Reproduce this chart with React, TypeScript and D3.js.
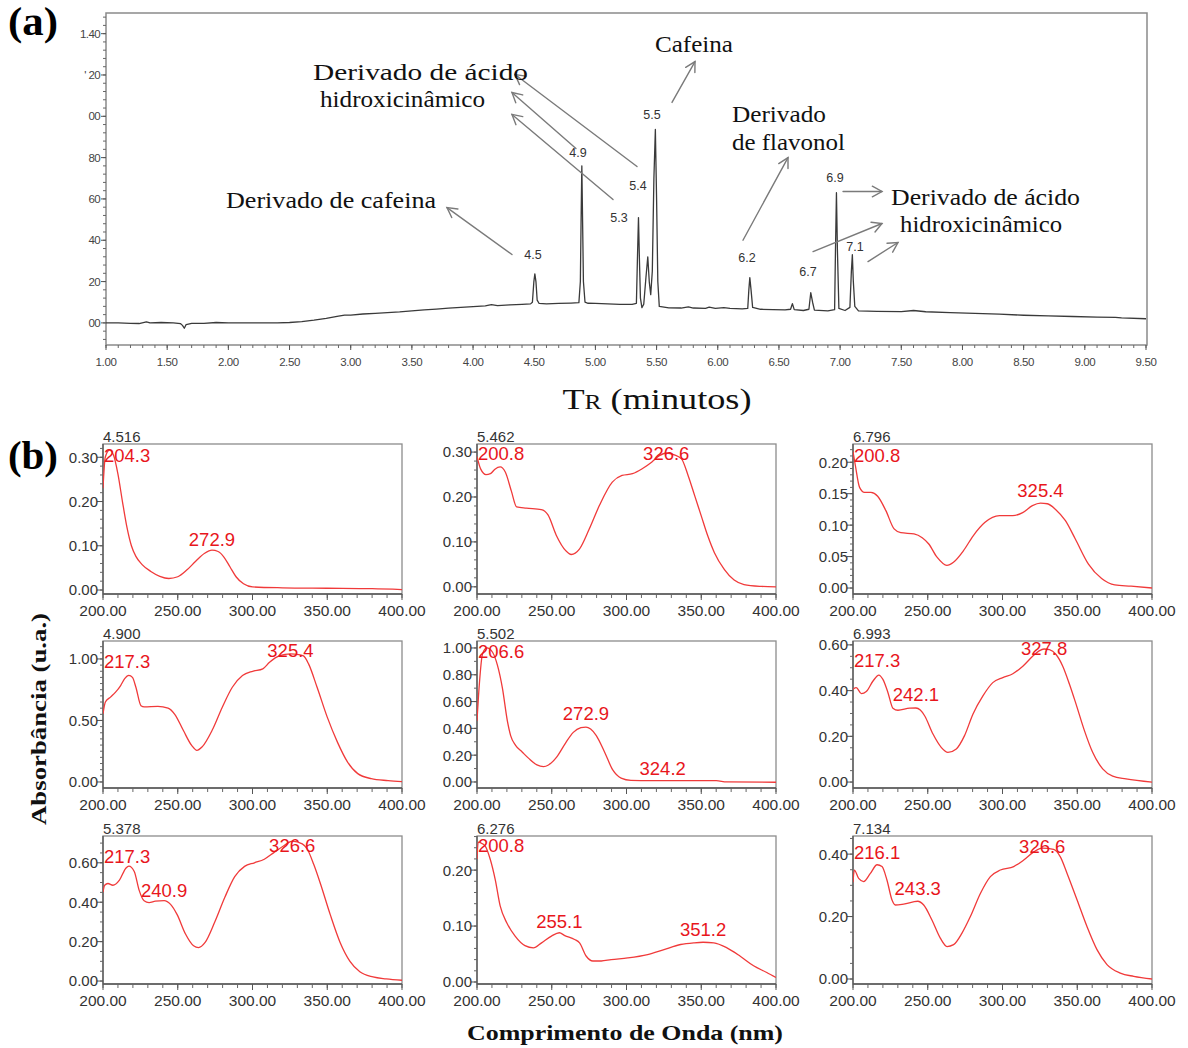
import React from "react";
import * as d3 from "d3";

const W = 1188;
const H = 1048;

const SERIF = "'Liberation Serif', 'Times New Roman', serif";
const SANS = "'Liberation Sans', Arial, sans-serif";

// ---------- (a) chromatogram ----------
// [retention time (min), absorbance]
const chromTrace: [number, number][] = [
  [1.0, 0.0], [1.1, 0.0], [1.2, -0.002], [1.27, -0.003], [1.33, 0.005], [1.36, 0.0], [1.45, 0.002],
  [1.55, 0.0], [1.61, -0.004], [1.625, -0.012], [1.64, -0.026], [1.655, -0.008], [1.7, -0.002],
  [1.8, -0.002], [1.9, 0.002], [2.0, 0.0], [2.2, 0.0], [2.4, 0.0], [2.5, 0.002], [2.6, 0.006],
  [2.7, 0.013], [2.8, 0.022], [2.9, 0.033], [2.95, 0.038], [3.0, 0.038], [3.1, 0.043], [3.2, 0.046],
  [3.3, 0.05], [3.4, 0.053], [3.5, 0.058], [3.6, 0.063], [3.7, 0.067], [3.8, 0.071], [3.9, 0.075],
  [4.0, 0.079], [4.1, 0.082], [4.15, 0.088], [4.2, 0.084], [4.3, 0.087], [4.4, 0.09], [4.47, 0.092],
  [4.485, 0.1], [4.497, 0.2], [4.505, 0.237], [4.514, 0.2], [4.524, 0.11], [4.54, 0.094],
  [4.6, 0.092], [4.7, 0.094], [4.8, 0.096], [4.865, 0.098], [4.877, 0.2], [4.883, 0.5], [4.889, 0.76],
  [4.895, 0.5], [4.902, 0.2], [4.915, 0.1], [4.94, 0.095], [5.0, 0.094], [5.1, 0.092], [5.2, 0.09],
  [5.3, 0.09], [5.335, 0.095], [5.343, 0.3], [5.352, 0.51], [5.36, 0.3], [5.368, 0.12],
  [5.38, 0.074], [5.395, 0.09], [5.413, 0.22], [5.428, 0.32], [5.44, 0.2], [5.452, 0.137],
  [5.465, 0.25], [5.478, 0.7], [5.49, 0.936], [5.5, 0.6], [5.51, 0.2], [5.522, 0.08],
  [5.6, 0.073], [5.7, 0.072], [5.76, 0.078], [5.8, 0.072], [5.9, 0.07], [5.93, 0.076], [5.98, 0.07],
  [6.05, 0.074], [6.1, 0.07], [6.2, 0.068], [6.245, 0.07], [6.254, 0.16], [6.262, 0.219],
  [6.272, 0.16], [6.285, 0.075], [6.35, 0.066], [6.45, 0.064], [6.55, 0.063], [6.595, 0.066],
  [6.61, 0.093], [6.625, 0.064], [6.7, 0.06], [6.745, 0.066], [6.76, 0.146], [6.775, 0.1],
  [6.79, 0.062], [6.9, 0.058], [6.955, 0.064], [6.962, 0.35], [6.97, 0.63], [6.978, 0.35],
  [6.99, 0.07], [7.04, 0.06], [7.08, 0.075], [7.092, 0.25], [7.1, 0.33], [7.108, 0.2],
  [7.12, 0.08], [7.15, 0.058], [7.3, 0.056], [7.5, 0.055], [7.6, 0.06], [7.7, 0.054],
  [7.9, 0.05], [8.1, 0.046], [8.3, 0.042], [8.5, 0.037], [8.7, 0.034], [8.9, 0.031],
  [9.1, 0.028], [9.25, 0.027], [9.3, 0.024], [9.5, 0.02],
];

const chromXTicks = [1.0, 1.5, 2.0, 2.5, 3.0, 3.5, 4.0, 4.5, 5.0, 5.5, 6.0, 6.5, 7.0, 7.5, 8.0, 8.5, 9.0, 9.5];
const chromYTicks = [0, 0.2, 0.4, 0.6, 0.8, 1.0, 1.2, 1.4];
const chromYTickLabels = ["00", "20", "40", "60", "80", "00", "' 20", "1.40"];

// retention-time tags above peaks: [label, time, absorbance]
const peakTags: [string, number, number][] = [
  ["4.5", 4.49, 0.307], ["4.9", 4.858, 0.805], ["5.3", 5.193, 0.49], ["5.4", 5.348, 0.645],
  ["5.5", 5.462, 0.985], ["6.2", 6.239, 0.297], ["6.7", 6.738, 0.229], ["6.9", 6.958, 0.684],
  ["7.1", 7.122, 0.35],
];

// compound annotations: [text, time, absorbance] of text baseline start
const compoundNotes: [string, number, number][] = [
  ["Derivado de cafeina", 1.981, 0.558],
  ["Derivado de ácido", 2.692, 1.178],
  ["hidroxicinâmico", 2.749, 1.047],
  ["Cafeina", 5.487, 1.309],
  ["Derivado", 6.116, 0.974],
  ["de flavonol", 6.116, 0.839],
  ["Derivado de ácido", 7.416, 0.573],
  ["hidroxicinâmico", 7.49, 0.442],
];
// rendered width of each annotation line (px)
const compoundNoteWidths = [210, 215, 165, 78, 94, 113, 189, 162];

// annotation arrows: [fromT, fromV, toT, toV]
const noteArrows: [number, number, number, number][] = [
  [4.318, 0.331, 3.787, 0.558],
  [4.841, 0.844, 4.318, 1.115],
  [5.34, 0.757, 4.343, 1.202],
  [5.144, 0.597, 4.318, 1.009],
  [5.626, 1.067, 5.814, 1.265],
  [6.206, 0.4, 6.574, 0.8],
  [7.024, 0.636, 7.342, 0.636],
  [6.779, 0.345, 7.342, 0.481],
  [7.228, 0.297, 7.473, 0.389],
];

// ---------- (b) UV spectra: [wavelength (nm), absorbance] ----------
const spec4516: [number, number][] = [
  [200, 0.23], [201.5, 0.3], [204.3, 0.316], [207, 0.305], [210, 0.262], [213, 0.2], [216, 0.142],
  [219, 0.1], [222, 0.076], [226, 0.058], [232, 0.042], [238, 0.031], [244, 0.026], [250, 0.03],
  [256, 0.045], [262, 0.065], [268, 0.083], [272.9, 0.09], [277, 0.087], [281, 0.074], [285, 0.052],
  [289, 0.03], [294, 0.014], [300, 0.007], [320, 0.005], [350, 0.004], [380, 0.003], [400, 0.001],
];
const spec5462: [number, number][] = [
  [200, 0.29], [202.5, 0.262], [206, 0.25], [209, 0.252], [212, 0.262], [215.5, 0.267], [219, 0.255],
  [223, 0.213], [226.5, 0.178], [233, 0.175], [243, 0.172], [247.5, 0.16], [253, 0.115], [259.5, 0.08],
  [263, 0.072], [268.5, 0.084], [275, 0.128], [282, 0.182], [290.5, 0.233], [297, 0.248], [304, 0.252],
  [310.5, 0.263], [317, 0.278], [322, 0.292], [326.6, 0.298], [332, 0.294], [336.8, 0.285],
  [341.2, 0.248], [345.6, 0.203], [350, 0.158], [354.4, 0.113], [358.8, 0.076], [365.4, 0.039],
  [372, 0.015], [378.6, 0.005], [390, 0.001], [400, 0],
];
const spec6796: [number, number][] = [
  [200, 0.217], [201.5, 0.196], [204.4, 0.16], [207.7, 0.152], [212, 0.152], [216.5, 0.146], [222, 0.123],
  [227.5, 0.094], [232, 0.088], [240.8, 0.086], [246.3, 0.08], [250.7, 0.07], [256.2, 0.049],
  [262.8, 0.036], [267.2, 0.041], [273.8, 0.059], [280.4, 0.083], [288.1, 0.104], [298, 0.115],
  [306.8, 0.115], [313.5, 0.12], [320, 0.131], [325.4, 0.135], [330, 0.134], [335.5, 0.125],
  [342.1, 0.107], [348.7, 0.078], [357.5, 0.038], [366.3, 0.015], [375.1, 0.005], [386, 0.003], [400, 0],
];
const spec4900: [number, number][] = [
  [200, 0.554], [201.6, 0.65], [205, 0.69], [208.4, 0.73], [211.8, 0.784], [214.5, 0.84], [217.3, 0.866],
  [219.7, 0.85], [222, 0.77], [225.4, 0.62], [227.6, 0.61], [236.7, 0.614], [243.5, 0.6], [248, 0.55],
  [253.7, 0.42], [259.3, 0.297], [262.8, 0.257], [266.2, 0.284], [273, 0.42], [279.8, 0.608],
  [286.5, 0.77], [293.3, 0.865], [300.1, 0.9], [306.9, 0.92], [311.4, 0.973], [318.2, 1.027],
  [325.4, 1.042], [331, 1.035], [334.1, 1.025], [337.5, 0.96], [343.2, 0.77], [350, 0.527],
  [356.8, 0.324], [363.6, 0.162], [370.4, 0.068], [379.4, 0.027], [390.7, 0.011], [400, 0.002],
];
const spec5502: [number, number][] = [
  [200, 0.456], [201.5, 0.72], [203.7, 0.956], [206.6, 1.0], [210.4, 0.968], [213.7, 0.87], [217, 0.7],
  [220.3, 0.456], [222.5, 0.346], [225.8, 0.273], [230.2, 0.224], [234.6, 0.176], [240.1, 0.127],
  [244.5, 0.115], [247.8, 0.127], [253.4, 0.188], [258.9, 0.285], [264.4, 0.37], [269.5, 0.405],
  [272.9, 0.41], [276, 0.395], [279.8, 0.346], [285.3, 0.224], [290.8, 0.09], [296.4, 0.029],
  [303, 0.012], [316, 0.01], [324.2, 0.01], [360, 0.01], [367, 0.0], [400, -0.002],
];
const spec6993: [number, number][] = [
  [200, 0.406], [202.2, 0.413], [205.6, 0.387], [208.9, 0.396], [213.4, 0.442], [217.3, 0.468],
  [220, 0.449], [223.4, 0.391], [226.7, 0.323], [230.1, 0.314], [237.9, 0.323], [242.1, 0.324],
  [245, 0.315], [247.9, 0.29], [253.5, 0.21], [259, 0.152], [263.5, 0.13], [269.1, 0.145],
  [274.6, 0.203], [280.2, 0.297], [286.9, 0.377], [293.5, 0.435], [300.2, 0.457], [306.9, 0.474],
  [313.6, 0.507], [320.3, 0.551], [324.5, 0.574], [327.8, 0.582], [331.4, 0.579], [335.8, 0.558],
  [340.3, 0.507], [344.8, 0.428], [349.2, 0.341], [354.8, 0.225], [360.3, 0.13], [367, 0.058],
  [373.7, 0.026], [382.6, 0.014], [400, 0],
];
const spec5378: [number, number][] = [
  [200, 0.451], [201.1, 0.486], [203.3, 0.495], [206.6, 0.486], [211, 0.512], [215.4, 0.574],
  [217.3, 0.583], [220.9, 0.556], [224.2, 0.46], [227.5, 0.407], [230.8, 0.398], [235, 0.405],
  [240.9, 0.408], [245.2, 0.389], [249.6, 0.337], [255.1, 0.24], [260.6, 0.179], [263.9, 0.17],
  [268.3, 0.196], [274.9, 0.302], [281.5, 0.425], [288.1, 0.53], [294.7, 0.582], [301.3, 0.6],
  [307.9, 0.618], [314.5, 0.653], [321.2, 0.688], [326.6, 0.71], [333.3, 0.696], [336.6, 0.67],
  [341, 0.591], [345.4, 0.495], [352, 0.337], [358.6, 0.196], [365.2, 0.1], [371.8, 0.047],
  [380.6, 0.021], [389.4, 0.011], [400, 0.004],
];
const spec6276: [number, number][] = [
  [200, 0.22], [200.8, 0.25], [202.2, 0.249], [205.5, 0.243], [208.9, 0.219], [212.2, 0.183],
  [215.5, 0.136], [219.9, 0.106], [225.5, 0.082], [232.1, 0.065], [237.7, 0.061], [243.2, 0.07],
  [249.8, 0.082], [255.1, 0.088], [258.7, 0.083], [265.3, 0.076], [268.6, 0.07], [273.1, 0.046],
  [277.5, 0.0375], [283.1, 0.0375], [289.7, 0.04], [300.8, 0.043], [314.1, 0.049], [325.1, 0.058],
  [336.2, 0.067], [345, 0.07], [351.2, 0.071], [358.4, 0.07], [367.2, 0.061], [376.1, 0.046],
  [385, 0.029], [393.8, 0.017], [400, 0.008],
];
const spec7134: [number, number][] = [
  [200, 0.31], [200.9, 0.349], [203.8, 0.322], [207.1, 0.312], [211.6, 0.338], [216.1, 0.366],
  [219.4, 0.36], [222.7, 0.317], [226.1, 0.253], [228.3, 0.237], [233.9, 0.24], [243.3, 0.249],
  [247.3, 0.237], [252.8, 0.189], [258.4, 0.131], [262.9, 0.104], [267.3, 0.11], [272.9, 0.147],
  [278.5, 0.2], [285.2, 0.274], [291.9, 0.328], [298.6, 0.349], [307.5, 0.36], [314.2, 0.381],
  [320.9, 0.407], [326.6, 0.419], [334.2, 0.415], [338.7, 0.391], [343.2, 0.338], [349.9, 0.253],
  [356.5, 0.168], [363.2, 0.094], [369.9, 0.046], [378.8, 0.019], [387.8, 0.0085], [400, 0],
];

// panel order: row by row
const panelTimes = ["4.516", "5.462", "6.796", "4.900", "5.502", "6.993", "5.378", "6.276", "7.134"];
const panelSpectra = [spec4516, spec5462, spec6796, spec4900, spec5502, spec6993, spec5378, spec6276, spec7134];
const panelYDomains: [number, number][] = [
  [-0.009, 0.33], [-0.016, 0.318], [-0.0095, 0.229],
  [-0.049, 1.146], [-0.045, 1.052], [-0.026, 0.617],
  [-0.015, 0.736], [-0.0036, 0.261], [-0.016, 0.458],
];
const panelYTicks = [
  [0, 0.1, 0.2, 0.3], [0, 0.1, 0.2, 0.3], [0, 0.05, 0.1, 0.15, 0.2],
  [0, 0.5, 1.0], [0, 0.2, 0.4, 0.6, 0.8, 1.0], [0, 0.2, 0.4, 0.6],
  [0, 0.2, 0.4, 0.6], [0, 0.1, 0.2], [0, 0.2, 0.4],
];
const panelYMinorStep = [0.02, 0.02, 0.01, 0.05, 0.1, 0.05, 0.05, 0.02, 0.05];
// peak wavelength labels: [text, wavelength, absorbance of baseline, anchored at left edge]
const panelPeakLabels: [string, number, number, boolean][][] = [
  [["204.3", 204.3, 0.289, true], ["272.9", 272.9, 0.099, false]],
  [["200.8", 200.8, 0.282, true], ["326.6", 326.6, 0.282, false]],
  [["200.8", 200.8, 0.2, true], ["325.4", 325.4, 0.144, false]],
  [["217.3", 217.3, 0.927, true], ["325.4", 325.4, 1.016, false]],
  [["206.6", 206.6, 0.925, true], ["272.9", 272.9, 0.463, false], ["324.2", 324.2, 0.052, false]],
  [["217.3", 217.3, 0.503, true], ["242.1", 242.1, 0.354, false], ["327.8", 327.8, 0.556, false]],
  [["217.3", 217.3, 0.6, true], ["240.9", 240.9, 0.426, false], ["326.6", 326.6, 0.655, false]],
  [["200.8", 200.8, 0.232, true], ["255.1", 255.1, 0.096, false], ["351.2", 351.2, 0.082, false]],
  [["216.1", 216.1, 0.385, true], ["243.3", 243.3, 0.269, false], ["326.6", 326.6, 0.403, false]],
];
const wavelengthTicks = [200, 250, 300, 350, 400];

// ---------- layout ----------
const chromBox = { left: 106, right: 1147, top: 13, bottom: 345 };
const colLeft = [103, 477, 853];
const rowTop = [444, 641, 836];
const rowBottom = [594, 788, 984];
const panelW = 299;

const RED_LINE = "#f03a3a";
const RED_TEXT = "#e8161c";

function Arrow({ x1, y1, x2, y2 }: { x1: number; y1: number; x2: number; y2: number }) {
  const a = Math.atan2(y2 - y1, x2 - x1);
  const len = 11;
  const spread = 0.5;
  const ax1 = x2 - len * Math.cos(a - spread);
  const ay1 = y2 - len * Math.sin(a - spread);
  const ax2 = x2 - len * Math.cos(a + spread);
  const ay2 = y2 - len * Math.sin(a + spread);
  return (
    <g stroke="#7a7a7a" strokeWidth={1.4} fill="none" strokeLinecap="round">
      <line x1={x1} y1={y1} x2={x2} y2={y2} />
      <polyline points={`${ax1},${ay1} ${x2},${y2} ${ax2},${ay2}`} />
    </g>
  );
}

function Chromatogram() {
  const x = d3.scaleLinear().domain([1.0, 9.5]).range([chromBox.left, chromBox.right - 1]);
  const y = d3.scaleLinear().domain([-0.107, 1.5]).range([chromBox.bottom, chromBox.top]);
  const line = d3.line<[number, number]>().x((d) => x(d[0])).y((d) => y(d[1]));
  const minorX = d3.range(1.0, 9.5001, 0.1);
  const minorY = d3.range(-0.08, 1.5, 0.04);
  return (
    <g>
      <rect x={chromBox.left} y={chromBox.top} width={chromBox.right - chromBox.left}
        height={chromBox.bottom - chromBox.top} fill="none" stroke="#8a8a8a" strokeWidth={1.5} />
      {/* x ticks */}
      {minorX.map((t, i) => (
        <line key={"mx" + i} x1={x(t)} x2={x(t)} y1={chromBox.bottom} y2={chromBox.bottom + 3} stroke="#666" />
      ))}
      {chromXTicks.map((t) => (
        <g key={"x" + t}>
          <line x1={x(t)} x2={x(t)} y1={chromBox.bottom} y2={chromBox.bottom + 5} stroke="#555" />
          <text x={x(t)} y={chromBox.bottom + 21} textAnchor="middle" fontFamily={SANS} fontSize={11.5}
            fill="#444" letterSpacing={-0.4}>{t.toFixed(2)}</text>
        </g>
      ))}
      {/* y ticks */}
      {minorY.map((v, i) => (
        <line key={"my" + i} x1={chromBox.left - 3} x2={chromBox.left} y1={y(v)} y2={y(v)} stroke="#666" />
      ))}
      {chromYTicks.map((v, i) => (
        <g key={"y" + v}>
          <line x1={chromBox.left - 5} x2={chromBox.left} y1={y(v)} y2={y(v)} stroke="#555" />
          <text x={chromBox.left - 6} y={y(v)} dy="0.35em" textAnchor="end" fontFamily={SANS} fontSize={11.5}
            fill="#444" letterSpacing={-0.6}>{chromYTickLabels[i]}</text>
        </g>
      ))}
      <path d={line(chromTrace) ?? ""} fill="none" stroke="#3a3a3a" strokeWidth={1.3} strokeLinejoin="round" />
      {peakTags.map(([label, t, v]) => (
        <text key={"pt" + label} x={x(t)} y={y(v)} textAnchor="middle" fontFamily={SANS} fontSize={12.5}
          fill="#333">{label}</text>
      ))}
      {noteArrows.map(([t1, v1, t2, v2], i) => (
        <Arrow key={"ar" + i} x1={x(t1)} y1={y(v1)} x2={x(t2)} y2={y(v2)} />
      ))}
      {compoundNotes.map(([txt, t, v], i) => (
        <text key={"cn" + i} x={x(t)} y={y(v)} fontFamily={SERIF} fontSize={23} fill="#111"
          textLength={compoundNoteWidths[i]} lengthAdjust="spacingAndGlyphs">{txt}</text>
      ))}
      <text x={657} y={409} textAnchor="middle" fontFamily={SERIF} fontSize={30} fill="#111"
        textLength={189} lengthAdjust="spacingAndGlyphs">
        T<tspan fontSize={21}>R</tspan> (minutos)
      </text>
    </g>
  );
}

function SpectrumPanel({ idx }: { idx: number }) {
  const col = idx % 3;
  const row = Math.floor(idx / 3);
  const left = colLeft[col];
  const right = left + panelW;
  const top = rowTop[row];
  const bottom = rowBottom[row];
  const x = d3.scaleLinear().domain([200, 400]).range([left, right]);
  const y = d3.scaleLinear().domain(panelYDomains[idx]).range([bottom, top]);
  const line = d3.line<[number, number]>().x((d) => x(d[0])).y((d) => y(d[1])).curve(d3.curveMonotoneX);
  const minorX = d3.range(200, 400.001, 10);
  const [y0, y1] = panelYDomains[idx];
  const step = panelYMinorStep[idx];
  const minorY = d3.range(Math.ceil(y0 / step) * step, y1, step).filter((v) => v >= 0 || Math.abs(v) < 1e-9);
  const clipId = "clip" + idx;
  return (
    <g>
      <defs>
        <clipPath id={clipId}>
          <rect x={left} y={top} width={right - left} height={bottom - top} />
        </clipPath>
      </defs>
      <rect x={left} y={top} width={right - left} height={bottom - top} fill="none" stroke="#8c8c8c" strokeWidth={1.3} />
      <line x1={left} x2={left} y1={top} y2={bottom} stroke="#555" strokeWidth={1.3} />
      <line x1={left} x2={right} y1={bottom} y2={bottom} stroke="#555" strokeWidth={1.3} />
      {minorX.map((w, i) => (
        <line key={"mx" + i} x1={x(w)} x2={x(w)} y1={bottom} y2={bottom + 4} stroke="#666" />
      ))}
      {wavelengthTicks.map((w) => (
        <g key={"x" + w}>
          <line x1={x(w)} x2={x(w)} y1={bottom} y2={bottom + 6} stroke="#555" />
          <text x={x(w)} y={bottom + 22} textAnchor="middle" fontFamily={SANS} fontSize={15.5} fill="#333">
            {w.toFixed(2)}
          </text>
        </g>
      ))}
      {minorY.map((v, i) => (
        <line key={"my" + i} x1={left - 3} x2={left} y1={y(v)} y2={y(v)} stroke="#666" />
      ))}
      {panelYTicks[idx].map((v) => (
        <g key={"y" + v}>
          <line x1={left - 6} x2={left} y1={y(v)} y2={y(v)} stroke="#555" />
          <text x={left - 5} y={y(v)} dy="0.36em" textAnchor="end" fontFamily={SANS} fontSize={15} fill="#333">
            {v.toFixed(2)}
          </text>
        </g>
      ))}
      <text x={left} y={top - 2} fontFamily={SANS} fontSize={15} fill="#333">{panelTimes[idx]}</text>
      <path d={line(panelSpectra[idx]) ?? ""} fill="none" stroke={RED_LINE} strokeWidth={1.3}
        clipPath={`url(#${clipId})`} />
      {panelPeakLabels[idx].map(([txt, w, v, atEdge], i) => (
        <text key={"pl" + i} x={atEdge ? left + 1 : x(w)} y={y(v)} textAnchor={atEdge ? "start" : "middle"}
          fontFamily={SANS} fontSize={18.5} fill={RED_TEXT}>{txt}</text>
      ))}
    </g>
  );
}

export default function App() {
  return (
    <svg width={W} height={H} viewBox={`0 0 ${W} ${H}`}
      style={{ position: "absolute", left: 0, top: 0, background: "#fff", display: "block" }}>
      <rect x={0} y={0} width={W} height={H} fill="#fff" />
      <text x={8} y={35} fontFamily={SERIF} fontWeight="bold" fontSize={40} fill="#000"
        textLength={50} lengthAdjust="spacingAndGlyphs">(a)</text>
      <Chromatogram />
      <text x={8} y={469} fontFamily={SERIF} fontWeight="bold" fontSize={40} fill="#000"
        textLength={50} lengthAdjust="spacingAndGlyphs">(b)</text>
      {panelTimes.map((_, i) => (
        <SpectrumPanel key={i} idx={i} />
      ))}
      <text transform="translate(46,719) rotate(-90)" textAnchor="middle" fontFamily={SERIF} fontWeight="bold"
        fontSize={22} fill="#111" textLength={212} lengthAdjust="spacingAndGlyphs">Absorbância (u.a.)</text>
      <text x={625} y={1040} textAnchor="middle" fontFamily={SERIF} fontWeight="bold" fontSize={22}
        fill="#111" textLength={316} lengthAdjust="spacingAndGlyphs">Comprimento de Onda (nm)</text>
    </svg>
  );
}
